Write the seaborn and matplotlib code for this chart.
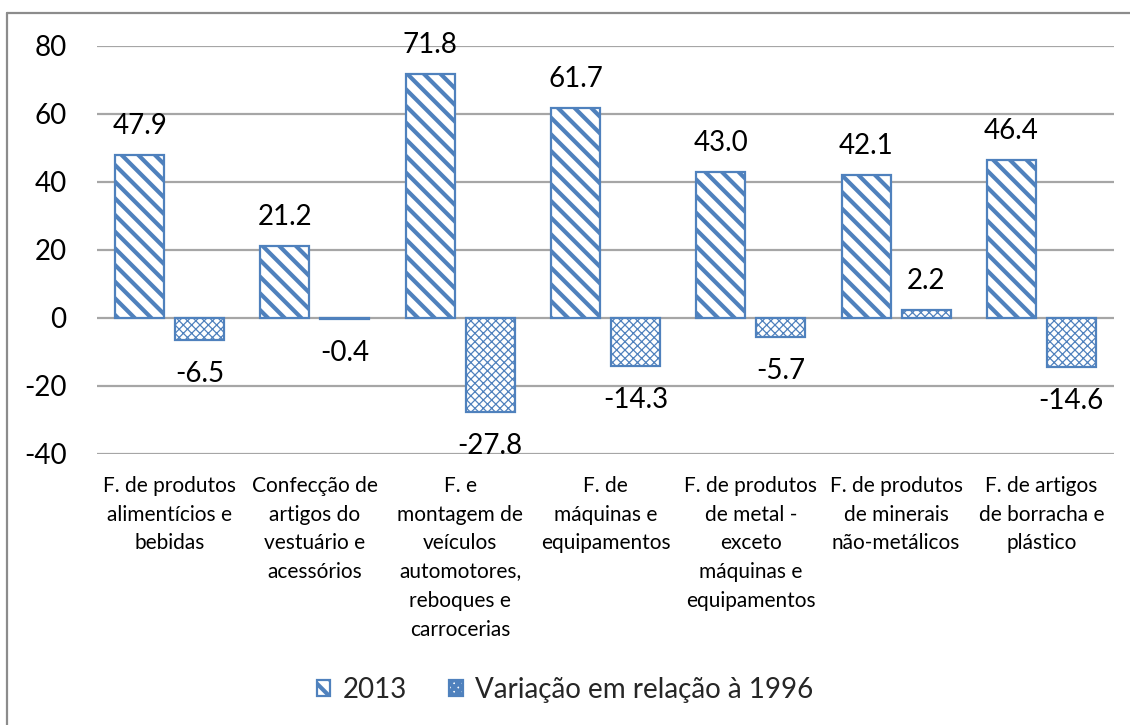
import matplotlib
matplotlib.use("Agg")
import matplotlib.pyplot as plt
import seaborn as sns
import pandas as pd
from matplotlib.lines import Line2D

categories = [
    "F. de produtos\nalimentícios e\nbebidas",
    "Confecção de\nartigos do\nvestuário e\nacessórios",
    "F. e\nmontagem de\nveículos\nautomotores,\nreboques e\ncarrocerias",
    "F. de\nmáquinas e\nequipamentos",
    "F. de produtos\nde metal -\nexceto\nmáquinas e\nequipamentos",
    "F. de produtos\nde minerais\nnão-metálicos",
    "F. de artigos\nde borracha e\nplástico",
]
series_names = ["2013", "Variação em relação à 1996"]
values_2013 = [47.9, 21.2, 71.8, 61.7, 43.0, 42.1, 46.4]
values_var = [-6.5, -0.4, -27.8, -14.3, -5.7, 2.2, -14.6]
y_ticks = [-40, -20, 0, 20, 40, 60, 80]

sns.set_theme(style="white")
plt.rcParams["font.family"] = ["Lato", "DejaVu Sans"]
plt.rcParams["axes.unicode_minus"] = False
plt.rcParams["hatch.linewidth"] = 3.0

BLUE = "#4F81BD"
GRID = "#A6A6A6"

df = pd.DataFrame({
    "cat": categories * 2,
    "serie": [series_names[0]] * len(categories) + [series_names[1]] * len(categories),
    "valor": values_2013 + values_var,
})

fig = plt.figure(figsize=(11.3, 7.25), dpi=100)
ax = fig.add_axes([97 / 1130, 1 - 453.5 / 725, 1017 / 1130, 407.5 / 725])

sns.barplot(data=df, x="cat", y="valor", hue="serie", order=categories,
            hue_order=series_names, palette=["white", "white"],
            width=0.826, gap=0.184, ax=ax, legend=False, zorder=3)

hatches = ["\\\\", "xxxx"]
hlw = [3.0, 0.9]
for cont, h, lw in zip(ax.containers, hatches, hlw):
    for p in cont:
        p.set_facecolor("white")
        p.set_edgecolor(BLUE)
        p.set_linewidth(1.6)
        p.set_hatch(h)
        if hasattr(p, "set_hatch_linewidth"):
            p.set_hatch_linewidth(lw)

ax.set_ylim(-40, 80)
ax.set_yticks(y_ticks)
ax.set_xlim(-0.5, len(categories) - 0.5)
for y in y_ticks:
    ax.axhline(y, color=GRID, lw=1.6, zorder=1)
for s in ax.spines.values():
    s.set_visible(False)
ax.grid(False)
ax.set_xlabel("")
ax.set_ylabel("")
ax.tick_params(axis="y", length=0, pad=22, labelsize=20, labelcolor="black")
ax.tick_params(axis="x", length=0, pad=16, labelsize=15, labelcolor="black")
for lab in ax.get_xticklabels():
    lab.set_linespacing(1.55)
    lab.set_verticalalignment("top")

for cont, vals in zip(ax.containers, [values_2013, values_var]):
    for p, v in zip(cont, vals):
        xc = p.get_x() + p.get_width() / 2
        off = 29 if v >= 0 else -34
        ax.annotate(f"{v:.1f}", (xc, v), xytext=(0, off), textcoords="offset pixels",
                    ha="center", va="center", fontsize=20, color="black", zorder=5)

handles = [ax.containers[0][0], ax.containers[1][0]]
fig.legend(handles, series_names, loc="center", bbox_to_anchor=(0.5, 1 - 690 / 725),
           ncol=2, frameon=False, fontsize=20, handlelength=0.5, handleheight=0.5,
           handletextpad=0.45, columnspacing=1.5)

fig.add_artist(Line2D([7 / 1130, 7 / 1130], [-0.1, 1 - 13 / 725], transform=fig.transFigure,
                      color="#8C8C8C", lw=1.6))
fig.add_artist(Line2D([7 / 1130, 1.1], [1 - 13 / 725, 1 - 13 / 725], transform=fig.transFigure,
                      color="#8C8C8C", lw=1.6))

fig.savefig("out.png", dpi=100)
